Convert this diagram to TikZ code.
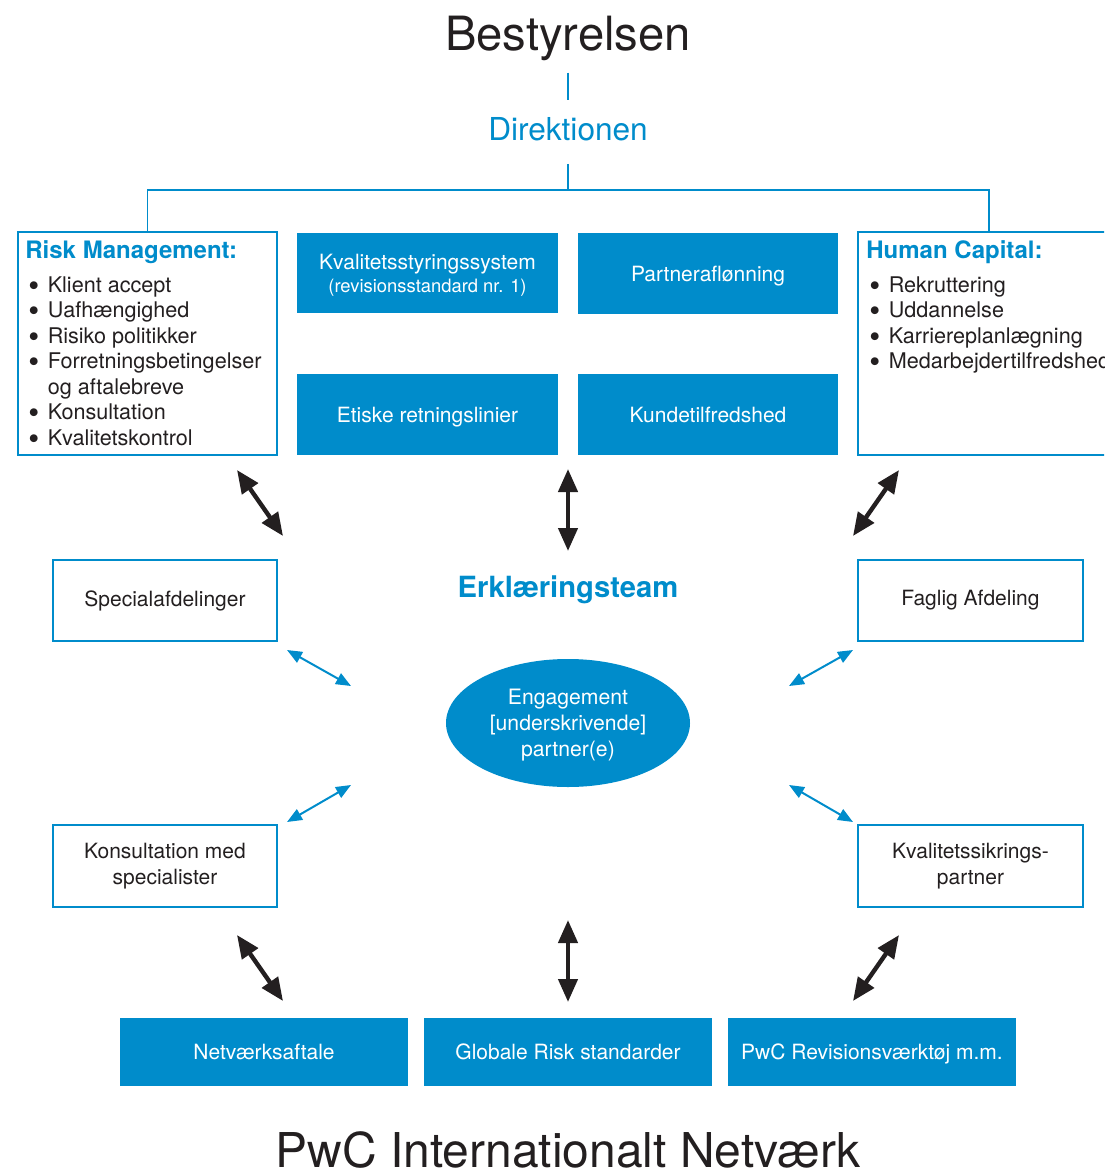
\documentclass[tikz,border=0pt]{standalone}
\usepackage{fontspec}
\setmainfont{TeX Gyre Heros}
\usetikzlibrary{arrows.meta,shapes.geometric}
\definecolor{pwcblue}{HTML}{008CCB}
\definecolor{ink}{HTML}{231F20}
\tikzset{
  fillbox/.style={rectangle, fill=pwcblue, text=white, inner sep=0pt, align=center,
    text depth=0pt, font=\fontsize{10.5}{12.5}\selectfont},
  linebox/.style={rectangle, draw=pwcblue, line width=0.75pt, fill=white, text=ink,
    inner sep=0pt, align=center, font=\fontsize{10.5}{13}\selectfont},
  conn/.style={pwcblue, line width=0.6pt},
  bigarrow/.style={ink, line width=2.2pt,
    {Triangle[length=11.5pt,width=9.5pt]}-{Triangle[length=11.5pt,width=9.5pt]}},
  smallarrow/.style={pwcblue, line width=1pt,
    {Triangle[length=7.5pt,width=6pt]}-{Triangle[length=7.5pt,width=6pt]}},
  listtext/.style={anchor=base west, inner sep=0pt, text=ink, align=left,
    font=\fontsize{10.8}{12.75}\selectfont},
  headtext/.style={anchor=base west, inner sep=0pt, text=pwcblue,
    font=\fontsize{12}{14}\selectfont\bfseries},
}
\newcommand{\bigbul}{\raisebox{-0.17em}[0.6em][0pt]{\scalebox{1.45}{\textbullet}}}
\newcommand{\blist}[1]{\begin{tabular}[t]{@{}l@{\hspace{4.2pt}}l@{}}#1\end{tabular}}
\begin{document}
\begin{tikzpicture}[x=0.5pt,y=-0.5pt]
\useasboundingbox (0,0) rectangle (1104,1171);
\clip (0,0) rectangle (1104,1171);

% titles
\node[anchor=base, inner sep=0pt, text=ink, font=\fontsize{23.6}{28}\selectfont] (b) at (568,51) {Bestyrelsen};
\node[anchor=base, inner sep=0pt, text=pwcblue, font=\fontsize{15.8}{18}\selectfont] (d) at (568,141) {Direktionen};
\coordinate (bar) at (568,190);

% top boxes
\node[linebox, minimum width=129.5pt, minimum height=111.5pt] (rm) at (147.5,343.5) {};
\node[linebox, minimum width=131pt, minimum height=111.5pt] (hc) at (989,343.5) {};
\node[fillbox, minimum width=130.5pt, minimum height=40pt] (ks) at (427.5,273)
  {Kvalitetsstyringssystem\\[-1pt]{\fontsize{9.2}{11}\selectfont (revisionsstandard nr. 1)}};
\node[fillbox, minimum width=130pt, minimum height=40.5pt] (pa) at (708,273.5) {Partneraflønning};
\node[fillbox, minimum width=130.5pt, minimum height=40.5pt] (et) at (427.5,414.5) {Etiske retningslinier};
\node[fillbox, minimum width=130pt, minimum height=40.5pt] (kt) at (708,414.5) {Kundetilfredshed};

% box contents
\node[headtext] (rmh) at (25,259) {Risk Management:};
\node[listtext] (rml) at (28,292.5) {\blist{%
  \bigbul & Klient accept\\
  \bigbul & Uafhængighed\\
  \bigbul & Risiko politikker\\
  \bigbul & Forretningsbetingelser\\
          & og aftalebreve\\
  \bigbul & Konsultation\\
  \bigbul & Kvalitetskontrol}};
\node[headtext] (hch) at (866,259) {Human Capital:};
\node[listtext] (hcl) at (869,292.5) {\blist{%
  \bigbul & Rekruttering\\
  \bigbul & Uddannelse\\
  \bigbul & Karriereplanlægning\\
  \bigbul & Medarbejdertilfredshed}};

% hierarchy lines
\draw[conn] ([yshift=-5.5pt]b.south) -- ([yshift=9pt]d.north);
\draw[conn] ([yshift=-11pt]d.south) -- (bar);
\draw[conn] (rm.north) |- (bar) -| (hc.north);

% middle
\node[anchor=base, inner sep=0pt, text=pwcblue, font=\fontsize{14.6}{17}\selectfont\bfseries] (team) at (568,597) {Erklæringsteam};
\node[linebox] [minimum width=112pt, minimum height=40.5pt] (sa) at (165,600.5) {Specialafdelinger};
\node[linebox] [minimum width=112.5pt, minimum height=40.5pt] (fa) at (970.5,600.5) {Faglig Afdeling};
\node[linebox] [minimum width=112pt, minimum height=41pt] (km) at (165,866) {Konsultation med\\specialister};
\node[linebox] [minimum width=112.5pt, minimum height=41pt] (kp) at (970.5,866) {Kvalitetssikrings-\\partner};
\node[ellipse, fill=pwcblue, text=white, inner sep=0pt, minimum width=122pt, minimum height=64pt,
  align=center, text depth=0pt, font=\fontsize{10.6}{13}\selectfont] (ep) at (568,723)
  {Engagement\\{[underskrivende]}\\partner(e)};

% bottom
\node[fillbox, minimum width=144pt, minimum height=34pt] (nv) at (264,1052) {Netværksaftale};
\node[fillbox, minimum width=144pt, minimum height=34pt] (gr) at (568,1052) {Globale Risk standarder};
\node[fillbox, minimum width=144pt, minimum height=34pt] (pw) at (872,1052) {PwC Revisionsværktøj m.m.};
\node[anchor=base, inner sep=0pt, text=ink, font=\fontsize{24}{28}\selectfont] (net) at (568,1167) {PwC Internationalt Netværk};

% arrow end points
\coordinate (a1s) at (237,470); \coordinate (a1e) at (283,536);
\coordinate (a2s) at (568,469); \coordinate (a2e) at (568,551);
\coordinate (a3s) at (899,470); \coordinate (a3e) at (853,536);
\coordinate (a4s) at (237,935); \coordinate (a4e) at (283,1001);
\coordinate (a5s) at (568,920); \coordinate (a5e) at (568,1002);
\coordinate (a6s) at (899,935); \coordinate (a6e) at (853,1001);
\coordinate (s1s) at (287,650); \coordinate (s1e) at (351,686);
\coordinate (s2s) at (287,822); \coordinate (s2e) at (351,785);
\coordinate (s3s) at (853,650); \coordinate (s3e) at (789,686);
\coordinate (s4s) at (853,822); \coordinate (s4e) at (789,785);

\foreach \i in {1,...,6} \draw[bigarrow] (a\i s) -- (a\i e);
\foreach \i in {1,...,4} \draw[smallarrow] (s\i s) -- (s\i e);
\end{tikzpicture}
\end{document}
